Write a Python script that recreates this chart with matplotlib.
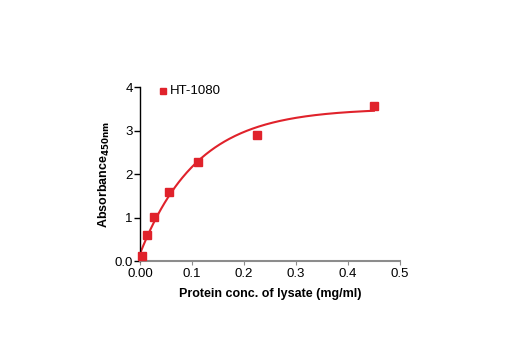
import numpy as np
import matplotlib
matplotlib.use('Agg')
import matplotlib.pyplot as plt

# 数据：蛋白浓度 (mg/ml) 与吸光度 A450
conc = [0.0035, 0.014, 0.028, 0.056, 0.1125, 0.225, 0.45]
absorbance = [0.12, 0.60, 1.02, 1.60, 2.28, 2.90, 3.57]
series_name = 'HT-1080'

red = '#e0222b'
grey = '#8c8c8c'

plt.rcParams['font.family'] = ['Liberation Sans Narrow', 'Liberation Sans', 'DejaVu Sans']

# 拟合曲线：y = A + B*exp(-x/t)，对 t 做网格搜索，A、B 用最小二乘
x = np.array(conc)
y = np.array(absorbance)
best = None
for t in np.linspace(0.02, 0.5, 481):
    M = np.column_stack([np.ones_like(x), np.exp(-x / t)])
    coef, res, _, _ = np.linalg.lstsq(M, y, rcond=None)
    err = np.sum((M @ coef - y) ** 2)
    if best is None or err < best[0]:
        best = (err, t, coef)
_, t_fit, (A_fit, B_fit) = best
xf = np.linspace(0, max(conc), 200)
yf = A_fit + B_fit * np.exp(-xf / t_fit)

fig = plt.figure(figsize=(5.2, 3.5), dpi=100)
ax = fig.add_axes([0.269, 0.254, 0.5, 0.497])

ax.plot(xf, yf, color=red, lw=1.5, zorder=2)
ax.plot(conc, absorbance, 's', color=red, ms=5.5, zorder=3, clip_on=False)

ax.set_xlim(0, 0.5)
ax.set_ylim(0, 4)
ax.set_xticks([0.0, 0.1, 0.2, 0.3, 0.4, 0.5])
ax.set_xticklabels(['0.00', '0.1', '0.2', '0.3', '0.4', '0.5'])
ax.set_yticks([0, 1, 2, 3, 4])
ax.set_yticklabels(['0.0', '1', '2', '3', '4'])

for s in ['top', 'right']:
    ax.spines[s].set_visible(False)
ax.spines['left'].set_color('black')
ax.spines['left'].set_linewidth(1.0)
ax.spines['bottom'].set_color(grey)
ax.spines['bottom'].set_linewidth(1.5)

ax.tick_params(axis='y', direction='out', length=4, width=1, color='black',
               labelsize=9.5, pad=1)
ax.tick_params(axis='x', direction='out', length=3, width=0.8, color=grey,
               labelsize=9.5, pad=2)

ax.set_xlabel('Protein conc. of lysate (mg/ml)', fontsize=9, fontweight='bold', labelpad=6)
ax.set_ylabel('Absorbance$_{\\mathbf{450nm}}$', fontsize=9, fontweight='bold', labelpad=2)

# 图例
ax.plot([0.045], [3.9], 's', color=red, ms=5, clip_on=False)
ax.text(0.058, 3.9, series_name, fontsize=9.5, va='center', ha='left')

fig.savefig('out.png', dpi=100)
